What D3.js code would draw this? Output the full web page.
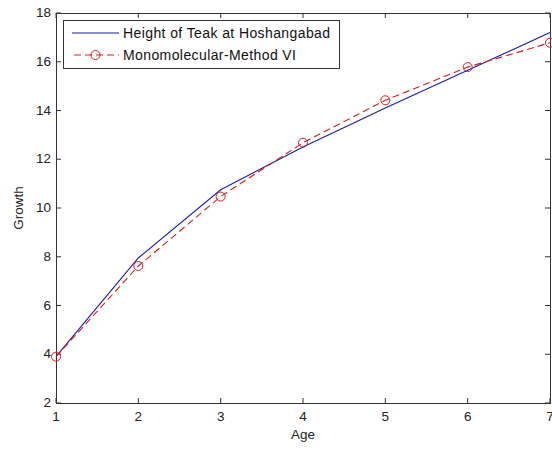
<!DOCTYPE html>
<html>
<head>
<meta charset="utf-8">
<script src="https://cdn.jsdelivr.net/npm/d3@7"></script>
<style>
  body { margin: 0; background: #fff; }
  text { font-family: "Liberation Sans", Arial, sans-serif; }
</style>
</head>
<body>
<svg id="chart" width="552" height="450"></svg>
<script>
// data
const ages = [1, 2, 3, 4, 5, 6, 7];
const teakHeight = [3.9, 7.95, 10.75, 12.5, 14.1, 15.65, 17.2];
const monomolecular = [3.9, 7.62, 10.47, 12.68, 14.42, 15.78, 16.78];
const xTicks = [1, 2, 3, 4, 5, 6, 7];
const yTicks = [2, 4, 6, 8, 10, 12, 14, 16, 18];
const seriesNames = ["Height of Teak at Hoshangabad", "Monomolecular-Method VI"];

const svg = d3.select("#chart");
const plotLeft = 56, plotRight = 550, plotTop = 13, plotBottom = 403;
const axisColor = "#333";
const blue = "#1c1ca8";
const red = "#d42020";
const fs = 13.5;

var x = d3.scaleLinear().domain([1, 7]).range([plotLeft, plotRight]);
var y = d3.scaleLinear().domain([2, 18]).range([plotBottom, plotTop]);

// ticks, inward, on all four sides
const g = svg.append("g");
g.selectAll(".xt").data(xTicks).enter().append("line")
  .attr("x1", d => x(d)).attr("x2", d => x(d))
  .attr("y1", plotBottom).attr("y2", plotBottom - 5)
  .attr("stroke", axisColor);
g.selectAll(".xtt").data(xTicks).enter().append("line")
  .attr("x1", d => x(d)).attr("x2", d => x(d))
  .attr("y1", plotTop).attr("y2", plotTop + 5)
  .attr("stroke", axisColor);
g.selectAll(".yt").data(yTicks).enter().append("line")
  .attr("x1", plotLeft).attr("x2", plotLeft + 5)
  .attr("y1", d => y(d)).attr("y2", d => y(d))
  .attr("stroke", axisColor);
g.selectAll(".ytr").data(yTicks).enter().append("line")
  .attr("x1", plotRight).attr("x2", plotRight - 5)
  .attr("y1", d => y(d)).attr("y2", d => y(d))
  .attr("stroke", axisColor);

g.append("rect")
  .attr("x", plotLeft + 0.5).attr("y", plotTop + 0.5)
  .attr("width", plotRight - plotLeft).attr("height", plotBottom - plotTop)
  .attr("fill", "none").attr("stroke", axisColor);

// tick labels (the last x label is cut by the edge, as in the original)
g.selectAll(".xl").data(xTicks).enter().append("text")
  .attr("x", d => x(d)).attr("y", plotBottom + 18)
  .attr("text-anchor", "middle").attr("font-size", fs).attr("fill", "#222")
  .text(d => d);
g.selectAll(".yl").data(yTicks).enter().append("text")
  .attr("x", plotLeft - 5).attr("y", d => y(d) + 4)
  .attr("text-anchor", "end").attr("font-size", fs).attr("fill", "#222")
  .text(d => d);

// axis titles
svg.append("text")
  .attr("x", (plotLeft + plotRight) / 2).attr("y", 439)
  .attr("text-anchor", "middle").attr("font-size", fs).attr("fill", "#222")
  .text("Age");
svg.append("text")
  .attr("transform", "translate(23," + ((plotTop + plotBottom) / 2) + ") rotate(-90)")
  .attr("text-anchor", "middle").attr("font-size", fs).attr("fill", "#222")
  .text("Growth");

var line = d3.line().x((d, i) => x(ages[i])).y(d => y(d));

svg.append("path").datum(teakHeight)
  .attr("d", line).attr("fill", "none")
  .attr("stroke", blue).attr("stroke-width", 1.1);

svg.append("path").datum(monomolecular)
  .attr("d", line).attr("fill", "none")
  .attr("stroke", red).attr("stroke-width", 1.1)
  .attr("stroke-dasharray", "7,4");

svg.selectAll(".pt").data(monomolecular).enter().append("circle")
  .attr("cx", (d, i) => x(ages[i])).attr("cy", d => y(d))
  .attr("r", 4.5).attr("fill", "none")
  .attr("stroke", red).attr("stroke-width", 1);

// legend
const lg = svg.append("g");
lg.append("rect")
  .attr("x", 63.5).attr("y", 20.5).attr("width", 276).attr("height", 48)
  .attr("fill", "#fff").attr("stroke", axisColor);
lg.append("line").attr("x1", 72).attr("x2", 119).attr("y1", 33).attr("y2", 33)
  .attr("stroke", blue).attr("stroke-width", 1.1);
lg.append("line").attr("x1", 72).attr("x2", 119).attr("y1", 55).attr("y2", 55)
  .attr("stroke", red).attr("stroke-width", 1.1).attr("stroke-dasharray", "7,4")
  .attr("stroke-dashoffset", -2);
lg.append("circle").attr("cx", 95.5).attr("cy", 55).attr("r", 4.5)
  .attr("fill", "none").attr("stroke", red);
lg.selectAll(".lt").data(seriesNames).enter().append("text")
  .attr("x", 123).attr("y", (d, i) => 38 + i * 22)
  .attr("font-size", 14).attr("letter-spacing", 0.4).attr("fill", "#111")
  .text(d => d);
</script>
</body>
</html>
